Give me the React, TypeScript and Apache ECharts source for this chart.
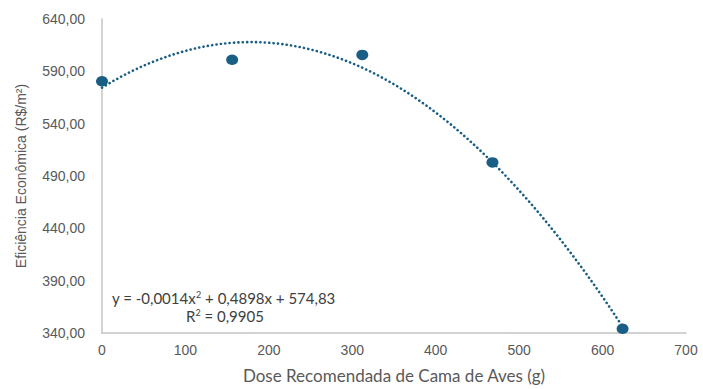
import React, { useEffect, useRef } from "react";
import * as echarts from "echarts";

const doses = [0, 156, 312, 468, 624];
const efficiency = [580.5, 601, 605.7, 503, 344];
const xTickLabels = ["0", "100", "200", "300", "400", "500", "600", "700"];
const yTickLabels = ["340,00", "390,00", "440,00", "490,00", "540,00", "590,00", "640,00"];
const xTitle = "Dose Recomendada de Cama de Aves (g)";
const yTitle = "Eficiência Econômica (R$/m²)";
const equationLine = "y = -0,0014x{sup|2} + 0,4898x + 574,83";
const r2Line = "R{sup|2} = 0,9905";

const COLOR = "#195E84";
const GRAY = "#595959";

function quadFit(xs: number[], ys: number[]) {
  // least squares y = a + b x + c x^2
  const n = xs.length;
  let s1 = 0, s2 = 0, s3 = 0, s4 = 0, t0 = 0, t1 = 0, t2 = 0;
  for (let i = 0; i < n; i++) {
    const x = xs[i], y = ys[i];
    s1 += x; s2 += x * x; s3 += x * x * x; s4 += x * x * x * x;
    t0 += y; t1 += x * y; t2 += x * x * y;
  }
  const M = [
    [n, s1, s2, t0],
    [s1, s2, s3, t1],
    [s2, s3, s4, t2],
  ];
  for (let i = 0; i < 3; i++) {
    for (let k = i + 1; k < 3; k++) {
      const f = M[k][i] / M[i][i];
      for (let j = i; j < 4; j++) M[k][j] -= f * M[i][j];
    }
  }
  const r = [0, 0, 0];
  for (let i = 2; i >= 0; i--) {
    let s = M[i][3];
    for (let j = i + 1; j < 3; j++) s -= M[i][j] * r[j];
    r[i] = s / M[i][i];
  }
  return r;
}

export default function App() {
  const ref = useRef<HTMLDivElement>(null);
  useEffect(() => {
    document.body.style.margin = "0";
    if (!ref.current) return;
    const chart = echarts.init(ref.current, null, { renderer: "svg" });
    const [a, b, c] = quadFit(doses, efficiency);
    const x0 = Math.min(...doses);
    const x1 = Math.max(...doses);
    const trend: number[][] = [];
    const steps = 120;
    for (let i = 0; i <= steps; i++) {
      const x = x0 + ((x1 - x0) * i) / steps;
      trend.push([x, a + b * x + c * x * x]);
    }
    const supStyle = { fontSize: 9, fontFamily: "Lato", verticalAlign: "top", padding: [0, 0, 6, 0], fill: "#404040" };
    chart.setOption({
      animation: false,
      grid: { left: 102, right: 17, top: 19, bottom: 54 },
      xAxis: {
        type: "value",
        min: 0,
        max: 700,
        interval: 100,
        name: xTitle,
        nameLocation: "middle",
        nameGap: 34,
        nameTextStyle: { fontFamily: "Lato", fontSize: 17, color: GRAY },
        axisLine: { show: true, lineStyle: { color: "#C4C4C4", width: 1.5 } },
        axisTick: { show: false },
        splitLine: { show: false },
        axisLabel: {
          margin: 10,
          fontFamily: "Liberation Sans",
          fontSize: 14,
          color: GRAY,
          formatter: (v: number) => xTickLabels[Math.round(v / 100)] ?? "",
        },
      },
      yAxis: {
        type: "value",
        min: 340,
        max: 640,
        interval: 50,
        name: yTitle,
        nameLocation: "middle",
        nameGap: 74,
        nameTextStyle: { fontFamily: "Liberation Sans", fontSize: 14, color: GRAY },
        axisLine: { show: true, lineStyle: { color: "#C4C4C4", width: 1.5 } },
        axisTick: { show: false },
        splitLine: { show: false },
        axisLabel: {
          margin: 17,
          fontFamily: "Liberation Sans",
          fontSize: 14,
          color: GRAY,
          formatter: (v: number) => yTickLabels[Math.round((v - 340) / 50)] ?? "",
        },
      },
      series: [
        {
          type: "line",
          data: trend,
          showSymbol: false,
          smooth: false,
          lineStyle: { color: COLOR, width: 2.6, type: [0.1, 4.3], cap: "round" },
          z: 2,
        },
        {
          type: "scatter",
          data: doses.map((d, i) => [d, efficiency[i]]),
          symbol: "circle",
          symbolSize: [12, 10.5],
          itemStyle: { color: COLOR, opacity: 1 },
          z: 3,
        },
      ],
      graphic: [
        {
          type: "text",
          left: 112,
          top: 290,
          style: {
            text: equationLine,
            fontFamily: "Lato",
            fontSize: 15,
            fill: "#404040",
            rich: { sup: supStyle },
          },
        },
        {
          type: "text",
          left: 186,
          top: 308,
          style: {
            text: r2Line,
            fontFamily: "Lato",
            fontSize: 15,
            fill: "#404040",
            rich: { sup: supStyle },
          },
        },
      ],
    });
    return () => chart.dispose();
  }, []);
  return <div ref={ref} style={{ width: 703, height: 389 }} />;
}
